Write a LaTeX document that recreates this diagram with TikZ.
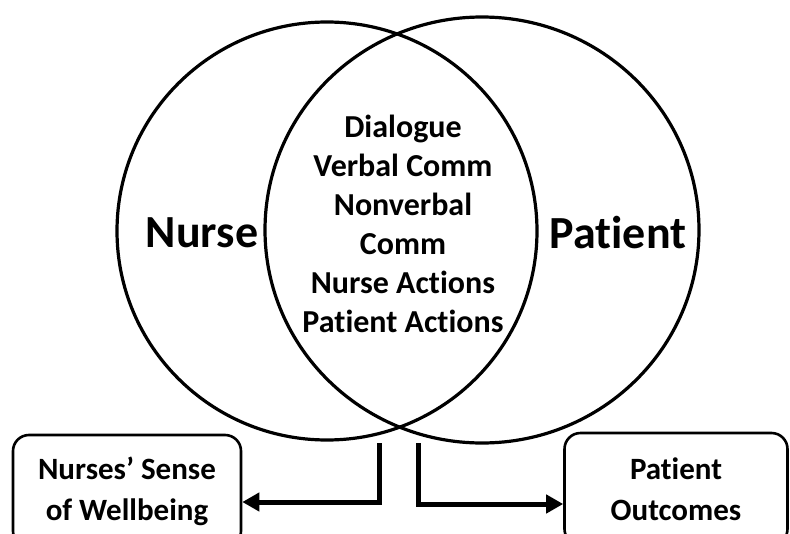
\documentclass[tikz,border=0pt]{standalone}
\usepackage{fontspec}
\setmainfont{Carlito}[Ligatures=NoCommon]
\usetikzlibrary{arrows.meta}
\def\nurseset{(327,231) ellipse (210 and 209)}
\def\patientset{(482,230) ellipse (217 and 213)}
\colorlet{set edge}{black}
\tikzset{outline/.style={draw=set edge, line width=3.2pt},
    setname/.style={font=\bfseries\fontsize{46}{52}\selectfont},
    item/.style={font=\bfseries\fontsize{32}{39}\selectfont, align=center},
    result/.style={draw=set edge, line width=2.6pt, rounded corners=16pt,
        minimum height=112pt, align=center,
        font=\bfseries\fontsize{31}{41}\selectfont},
    link/.style={draw=set edge, line width=5pt,
        -{Triangle[length=17pt,width=18pt]}}}

\begin{document}
\begin{tikzpicture}[x=1pt, y=-1pt]

 \useasboundingbox (0,0) rectangle (790,533);
 \clip (0,0) rectangle (790,533);

 \draw[outline] \nurseset;
 \draw[outline] \patientset;

\node[setname] (nurse) at (202,233) {Nurse};
\node[setname] (patient) at (618,233) {Patient};
\node[item] (shared) at (403,224) {Dialogue\\Verbal Comm\\Nonverbal\\Comm\\Nurse Actions\\Patient Actions};

% outcome boxes run off the lower edge
\node[result, minimum width=228pt] (wellbeing) at (127,491) {Nurses’ Sense\\of Wellbeing};
\node[result, minimum width=223pt] (outcomes) at (676,489) {Patient\\Outcomes};

\coordinate (nstart) at (379,443);
\coordinate (pstart) at (418,443);
\draw[link] (nstart) |- ([yshift=-11pt]wellbeing.east);
\draw[link] (pstart) |- ([yshift=-15pt]outcomes.west);

\end{tikzpicture}
\end{document}
